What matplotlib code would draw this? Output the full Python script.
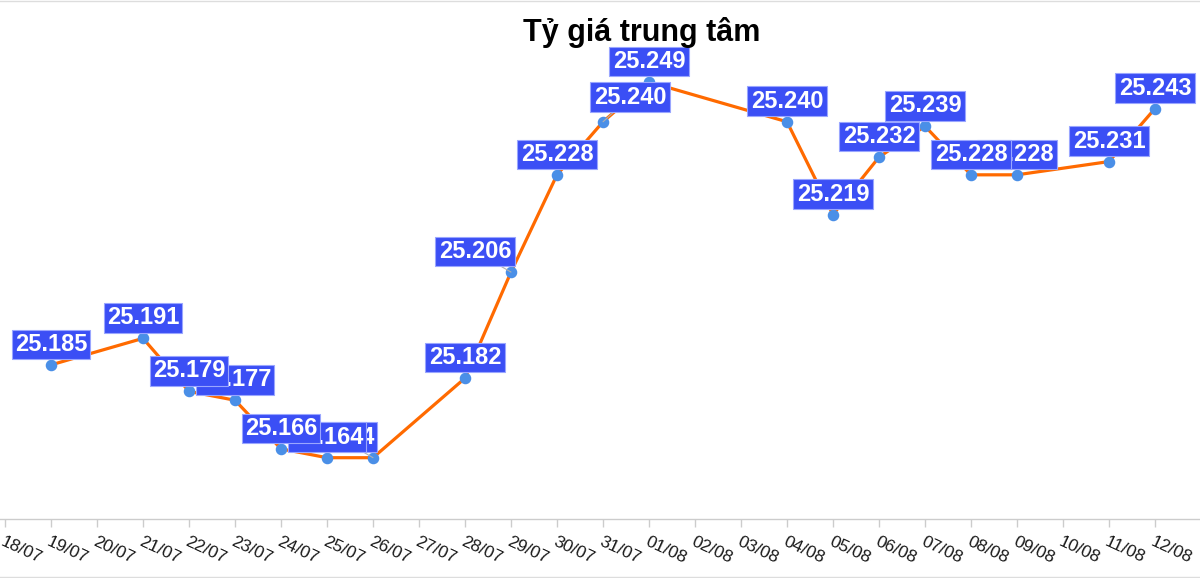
import matplotlib
matplotlib.use("Agg")
import matplotlib.pyplot as plt
from matplotlib.lines import Line2D

plt.rcParams['font.family'] = ['Liberation Sans', 'DejaVu Sans']

# ---- data ----
tick_labels = ["18/07", "19/07", "20/07", "21/07", "22/07", "23/07", "24/07",
               "25/07", "26/07", "27/07", "28/07", "29/07", "30/07", "31/07",
               "01/08", "02/08", "03/08", "04/08", "05/08", "06/08", "07/08",
               "08/08", "09/08", "10/08", "11/08", "12/08"]
point_dates = ["19/07", "21/07", "22/07", "23/07", "24/07", "25/07", "26/07",
               "28/07", "29/07", "30/07", "31/07", "01/08", "04/08", "05/08",
               "06/08", "07/08", "08/08", "09/08", "11/08", "12/08"]
rates = [25.185, 25.191, 25.179, 25.177, 25.166, 25.164, 25.164,
         25.182, 25.206, 25.228, 25.240, 25.249, 25.240, 25.219,
         25.232, 25.239, 25.228, 25.228, 25.231, 25.243]
title = "Tỷ giá trung tâm"

# label offsets (pixels) for labels moved away from their points
label_shift = {"26/07": -35, "29/07": -36, "31/07": 27}
label_lift = {"31/07": 4}

W, H = 1200, 578
fig = plt.figure(figsize=(W / 100, H / 100), dpi=100)
ax = fig.add_axes([0, (H - 519) / H, 1, 519 / H])

xs = [tick_labels.index(d) for d in point_dates]
ax.plot(xs, rates, color='#ff6a00', lw=2.3, zorder=3, solid_joinstyle='round')
ax.plot(xs, rates, 'o', color='#4a8fe7', ms=7.3, zorder=4, mec='#4a8fe7')

for i, (x, v, d) in enumerate(zip(xs, rates, point_dates)):
    dx = label_shift.get(d, 0)
    dy = 9 + label_lift.get(d, 0)
    kw = {}
    if dx != 0:
        kw['arrowprops'] = dict(arrowstyle='-', color='#b0b0b0', lw=0.8,
                                shrinkA=0, shrinkB=0)
    ax.annotate(f"{v:.3f}", xy=(x, v), xytext=(dx, dy),
                textcoords='offset pixels', ha='center', va='bottom',
                fontsize=17, fontweight='bold', color='white',
                bbox=dict(boxstyle='square,pad=0.14', fc='#3b4ff5',
                          ec='#9aa6ff', lw=0.8),
                zorder=100 - i, **kw)

# scales
def px_to_val(py):
    return 25.249 - (py - 82) / 4.42 / 1000

ax.set_ylim(px_to_val(519), px_to_val(0))
ax.set_xlim(-5 / 46, (W - 5) / 46)

ax.set_yticks([])
ax.set_xticks(range(len(tick_labels)))
ax.set_xticklabels(tick_labels, rotation=-25, ha='left', va='top',
                   rotation_mode='anchor', fontsize=12.5, color='#1a1a1a')
ax.tick_params(axis='x', length=6, width=1, color='#cccccc', pad=5)
for s in ['left', 'right', 'top']:
    ax.spines[s].set_visible(False)
ax.spines['bottom'].set_color('#cccccc')
ax.spines['bottom'].set_linewidth(1)

fig.text(642 / W, 1 - 33 / H, title, ha='center', va='center',
         fontsize=22, fontweight='bold', color='black')

# figure border lines (top and bottom)
fig.add_artist(Line2D([0, 1], [1 - 1 / H, 1 - 1 / H], color='#dddddd', lw=1,
                      transform=fig.transFigure))
fig.add_artist(Line2D([0, 1], [1 / H, 1 / H], color='#dddddd', lw=1,
                      transform=fig.transFigure))

fig.savefig("out.png", dpi=100)
